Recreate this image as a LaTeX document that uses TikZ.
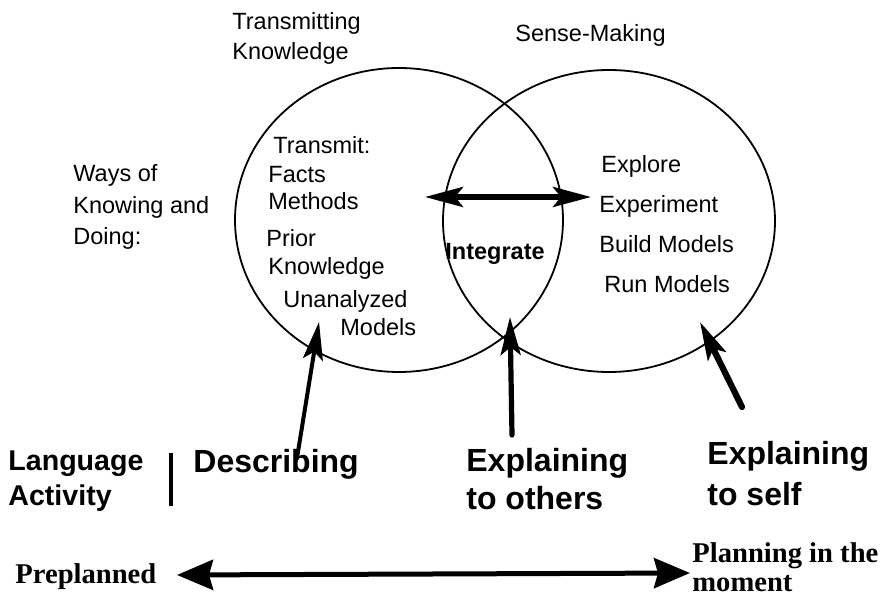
\documentclass[tikz,border=0pt]{standalone}
\usepackage{fontspec}
\setmainfont{Liberation Sans}
\newfontfamily\planfont{Liberation Serif}
\usetikzlibrary{arrows.meta,shapes.geometric}

\begin{document}
\begin{tikzpicture}[x=0.5pt,y=-0.5pt,
  lbl/.style={anchor=base west,inner sep=0pt,font=\fontsize{11.75pt}{14pt}\selectfont},
  lblb/.style={anchor=base west,inner sep=0pt,font=\fontsize{11.75pt}{14pt}\selectfont\bfseries},
  act/.style={anchor=base west,inner sep=0pt,font=\fontsize{16pt}{19pt}\selectfont\bfseries},
  lang/.style={anchor=base west,inner sep=0pt,font=\fontsize{14.3pt}{17pt}\selectfont\bfseries},
  plan/.style={anchor=base west,inner sep=0pt,font=\fontsize{14.3pt}{17pt}\selectfont\planfont\bfseries},
  ring/.style={draw,ellipse,line width=0.9pt,inner sep=0pt},
  tip/.tip={Stealth[length=19pt,width=10pt,inset=4pt]},
  bigtip/.tip={Stealth[length=18pt,width=15pt,inset=2pt]},
  pointer/.style={line width=2.4pt,line cap=round,-tip},
  twoway/.style={line width=2.6pt,tip-tip},
  span/.style={line width=2.5pt,bigtip-bigtip},
]
% page
\fill[white] (0,0) rectangle (889,597);
\useasboundingbox (0,0) rectangle (889,597);

% the two overlapping fields
\node[ring,minimum width=164pt,minimum height=152pt] (know) at (399,220) {};
\node[ring,minimum width=166pt,minimum height=151pt] (sense) at (609,221) {};

% headings
\node[lbl] (tk1) at (232,30) {Transmitting};
\node[lbl] (tk2) at (232,60) {Knowledge};
\node[lbl] (sm) at (515,42) {Sense-Making};
\node[lbl] (w1) at (73,182) {Ways of};
\node[lbl] (w2) at (73,214) {Knowing and};
\node[lbl] (w3) at (73,245) {Doing:};

% left field contents
\node[lbl] (t1) at (273,154) {Transmit:};
\node[lbl] (t2) at (268,183) {Facts};
\node[lbl] (t3) at (268,210) {Methods};
\node[lbl] (t4) at (266,247) {Prior};
\node[lbl] (t5) at (268,275) {Knowledge};
\node[lbl] (t6) at (283,308) {Unanalyzed};
\node[lbl] (t7) at (340,336) {Models};

% overlap
\node[lblb] (integ) at (445,260) {Integrate};

% right field contents
\node[lbl] (s1) at (601,173) {Explore};
\node[lbl] (s2) at (599,213) {Experiment};
\node[lbl] (s3) at (599,253) {Build Models};
\node[lbl] (s4) at (604,293) {Run Models};

% language activities
\node[lang] (la1) at (8,471) {Language};
\node[lang] (la2) at (8,506) {Activity};
\coordinate (barT) at (171,453);
\coordinate (barB) at (171,506);
\draw[line width=1.6pt] (barT) -- (barB);
\node[act] (desc) at (193,473) {Describing};
\node[act] (eo1) at (466,472) {Explaining};
\node[act] (eo2) at (466,510) {to others};
\node[act] (es1) at (707,465) {Explaining};
\node[act] (es2) at (707,506) {to self};

% pointers from the activities into the fields
\coordinate (dT) at (297,458);
\coordinate (dH) at (319,322);
\coordinate (oT) at (512,435);
\coordinate (oH) at (510,317);
\coordinate (sT) at (742,407);
\coordinate (sH) at (700,322);
\draw[pointer,line width=2pt] (dT) -- (dH);
\draw[pointer,line width=2.6pt] (oT) -- (oH);
\draw[pointer,line width=3.1pt] (sT) -- (sH);

% integration arrow across the overlap
\coordinate (iL) at (425,197);
\coordinate (iR) at (591,197);
\draw[twoway] (iL) -- (iR);

% planning scale
\node[plan] (pre) at (15,584) {Preplanned};
\node[plan] (pm1) at (692,563) {Planning in the};
\node[plan] (pm2) at (692,592) {moment};
\coordinate (pL) at (177,575);
\coordinate (pR) at (690,573);
\draw[span] (pL) -- (pR);
\end{tikzpicture}
\end{document}
